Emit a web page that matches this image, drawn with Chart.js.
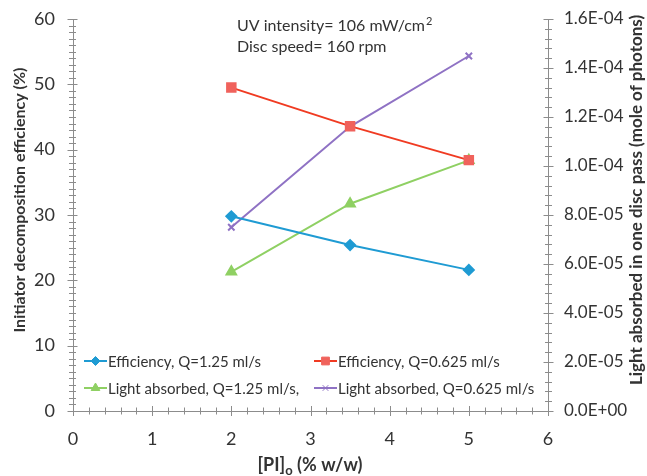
<!DOCTYPE html>
<html>
<head>
<meta charset="utf-8">
<script src="https://cdn.jsdelivr.net/npm/chart.js@4.4.1/dist/chart.umd.min.js"></script>
<style>
  html, body { margin: 0; padding: 0; background: #fff; }
  #wrap { width: 647px; height: 476px; }
</style>
</head>
<body>
<div id="wrap"><canvas id="pi_chart" width="647" height="476"></canvas></div>
<script>
// [PI]o loadings (% w/w)
const piLoading = [2, 3.5, 5];
// decomposition efficiency (%) - left axis
const effQ125 = [29.8, 25.4, 21.6];
const effQ0625 = [49.5, 43.6, 38.4];
// light absorbed per disc pass (mole of photons) - right axis
const lightQ125 = [5.68e-5, 8.46e-5, 1.023e-4];
const lightQ0625 = [7.5e-5, 1.161e-4, 1.449e-4];

const seriesLabels = [
  "Efficiency, Q=1.25 ml/s",
  "Efficiency, Q=0.625 ml/s",
  "Light absorbed, Q=1.25 ml/s,",
  "Light absorbed, Q=0.625 ml/s",
];
const yTitle = "Initiator decomposition efficiency (%)";
const y2Title = "Light absorbed in one disc pass (mole of photons)";
const notes = ["UV intensity= 106 mW/cm", "Disc speed= 160 rpm"];

const FONT = "Lato, 'Open Sans', sans-serif";
const AXIS = "#8c8c8c";
const TXT = "#333333";

const pts = (ys) => piLoading.map((x, i) => ({ x: x, y: ys[i] }));

function vertical(ctx, text, x, y, font) {
  ctx.save();
  ctx.translate(x, y);
  ctx.rotate(-Math.PI / 2);
  ctx.font = font;
  ctx.textAlign = "center";
  ctx.textBaseline = "middle";
  ctx.fillText(text, 0, 0);
  ctx.restore();
}

// small tick marks on all three axes, axis titles, notes and legend
const decorations = {
  id: "decorations",
  afterDraw(chart) {
    const ctx = chart.ctx;
    const xs = chart.scales.x, yl = chart.scales.y, yr = chart.scales.y2;
    ctx.save();
    ctx.strokeStyle = AXIS;
    ctx.lineWidth = 1;
    ctx.beginPath();
    for (let v = 0; v <= 60; v++) {
      const y = Math.round(yl.getPixelForValue(v)) + 0.5;
      const m = v % 10 === 0 ? 5 : 3.5;
      ctx.moveTo(xs.left - m - 0.5, y); ctx.lineTo(xs.left + m - 0.5, y);
    }
    for (let k = 0; k <= 40; k++) {
      const y = Math.round(yr.getPixelForValue(k * 4e-6)) + 0.5;
      const m = k % 5 === 0 ? 5 : 3.5;
      ctx.moveTo(xs.right - m + 0.5, y); ctx.lineTo(xs.right + m + 0.5, y);
    }
    for (let k = 0; k <= 30; k++) {
      const x = Math.round(xs.getPixelForValue(k * 0.2)) + 0.5;
      const m = k % 5 === 0 ? 5 : 3.5;
      ctx.moveTo(x, yl.bottom - m); ctx.lineTo(x, yl.bottom + m);
    }
    ctx.stroke();

    ctx.fillStyle = TXT;
    vertical(ctx, yTitle, 20, 200, "bold 16px " + FONT);
    vertical(ctx, y2Title, 637, 200, "bold 17px " + FONT);

    // x axis title with subscript
    ctx.textBaseline = "alphabetic";
    const cx = 310;
    const by = 471;
    const bold = "bold 18px " + FONT;
    const sub = "bold 13px " + FONT;
    ctx.font = bold;
    const w1 = ctx.measureText("[PI]").width;
    const w3 = ctx.measureText(" (% w/w)").width;
    ctx.font = sub;
    const w2 = ctx.measureText("o").width;
    const x0 = cx - (w1 + w2 + w3) / 2;
    ctx.textAlign = "left";
    ctx.font = bold; ctx.fillText("[PI]", x0, by);
    ctx.font = sub; ctx.fillText("o", x0 + w1, by + 4);
    ctx.font = bold; ctx.fillText(" (% w/w)", x0 + w1 + w2, by);

    // notes
    ctx.font = "16px " + FONT;
    ctx.fillText(notes[0], 237, 31);
    const nw = ctx.measureText(notes[0]).width;
    ctx.font = "11px " + FONT;
    ctx.fillText("2", 237 + nw + 1, 25);
    ctx.font = "16px " + FONT;
    ctx.fillText(notes[1], 237, 52);

    // legend, two columns inside the plot
    const spots = [[84, 361], [314, 361], [84, 388], [314, 388]];
    chart.data.datasets.forEach((ds, i) => {
      const [lx, ly] = spots[i];
      ctx.strokeStyle = ds.borderColor;
      ctx.lineWidth = 2;
      ctx.beginPath(); ctx.moveTo(lx, ly); ctx.lineTo(lx + 23, ly); ctx.stroke();
      ctx.fillStyle = ds.pointBackgroundColor;
      ctx.strokeStyle = ds.pointBorderColor;
      ctx.lineWidth = 1;
      Chart.helpers.drawPoint(ctx, {
        pointStyle: ds.pointStyle, radius: ds.pointRadius - 0.5,
        borderWidth: 1,
      }, lx + 11.5, ly);
      ctx.fillStyle = TXT;
      ctx.font = "15px " + FONT;
      ctx.textAlign = "left";
      ctx.textBaseline = "middle";
      ctx.fillText(ds.label, lx + 24, ly + 1);
    });
    ctx.restore();
  },
};

function line(label, data, color, pointColor, style, radius, axis) {
  return {
    label: label,
    data: data,
    yAxisID: axis,
    borderColor: color,
    backgroundColor: pointColor,
    pointBackgroundColor: pointColor,
    pointBorderColor: pointColor,
    pointStyle: style,
    pointRadius: radius,
    pointHoverRadius: radius,
    borderWidth: 2,
    tension: 0,
  };
}

// fixed box sizes so the plot area sits where it should
function fixWidth(w) {
  return (s) => { s.width = w; s.paddingTop = 0; s.paddingBottom = 0; };
}

const ctx = document.getElementById("pi_chart").getContext("2d");
const chart = new Chart(ctx, {
  type: "line",
  data: {
    datasets: [
      line(seriesLabels[0], pts(effQ125), "#1f9bd3", "#1f9bd3", "rectRot", 5, "y"),
      line(seriesLabels[1], pts(effQ0625), "#f03b22", "#f0625c", "rect", 6, "y"),
      line(seriesLabels[2], pts(lightQ125), "#8fd063", "#8fd063", "triangle", 5.5, "y2"),
      line(seriesLabels[3], pts(lightQ0625), "#8f72c4", "#8f72c4", "crossRot", 4.5, "y2"),
    ],
  },
  options: {
    responsive: false,
    animation: false,
    layout: { padding: { top: 19, left: 0, right: 0, bottom: 0 } },
    plugins: {
      legend: { display: false },
      tooltip: { enabled: false },
    },
    scales: {
      x: {
        type: "linear",
        min: 0, max: 6,
        grid: { display: false, drawTicks: false },
        border: { color: AXIS, width: 1 },
        ticks: { stepSize: 1, color: TXT, font: { family: FONT, size: 18 }, padding: 17 },
        afterFit(s) { s.height = 65; s.paddingLeft = 0; s.paddingRight = 0; },
      },
      y: {
        position: "left",
        min: 0, max: 60,
        grid: { display: false, drawTicks: false },
        border: { color: AXIS, width: 1 },
        ticks: { stepSize: 10, color: TXT, font: { family: FONT, size: 18 }, padding: 18 },
        afterFit: fixWidth(73),
      },
      y2: {
        position: "right",
        min: 0, max: 1.6e-4,
        grid: { display: false, drawTicks: false },
        border: { color: AXIS, width: 1 },
        ticks: {
          stepSize: 2e-5,
          color: TXT,
          font: { family: FONT, size: 17 },
          padding: 16,
          callback: (v) => v.toExponential(1).replace(/e([+-])(\d)$/, "E$10$2").toUpperCase(),
        },
        afterFit: fixWidth(99),
      },
    },
  },
  plugins: [decorations],
});
</script>
</body>
</html>
